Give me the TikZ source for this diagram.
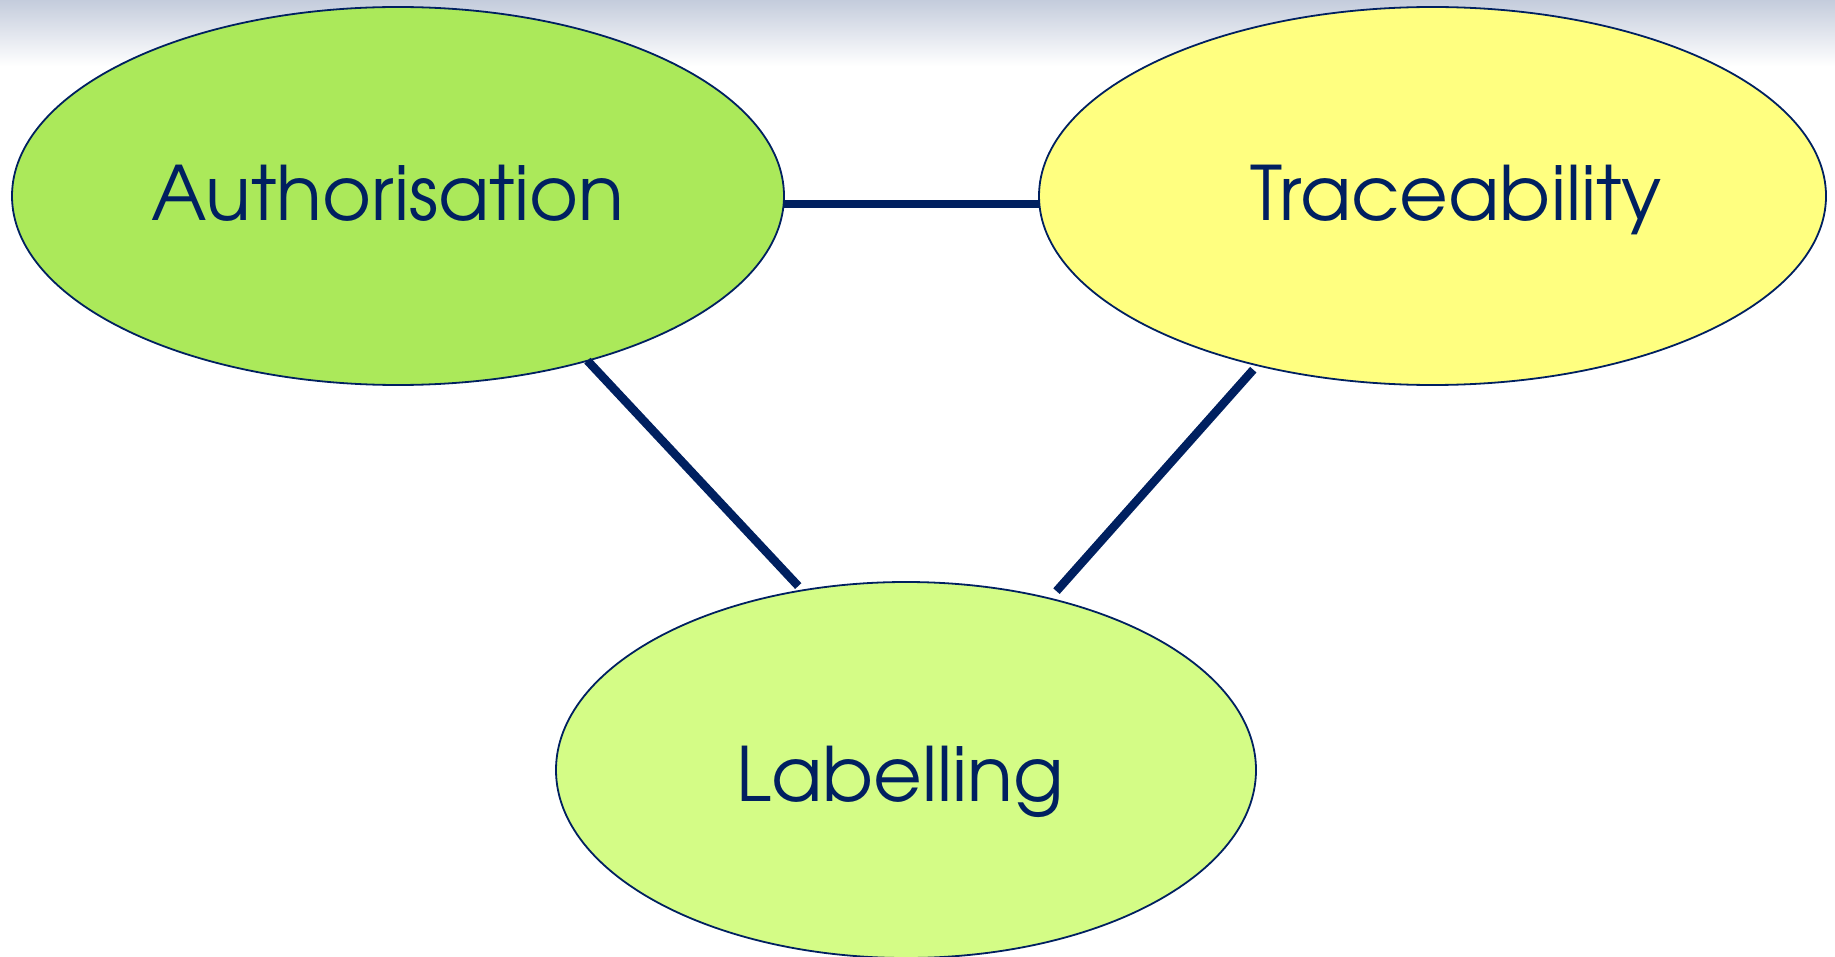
\documentclass[tikz,border=0pt]{standalone}
\usepackage{fontspec}
\setmainfont{TeX Gyre Adventor}
\usetikzlibrary{shapes.geometric}
\definecolor{navy}{RGB}{0,32,96}
\definecolor{authfill}{RGB}{171,233,90}
\definecolor{tracefill}{RGB}{255,255,128}
\definecolor{labfill}{RGB}{212,252,134}
\definecolor{topshade}{RGB}{196,204,220}
\begin{document}
\begin{tikzpicture}[x=1pt,y=-1pt,
  blob/.style={ellipse, draw=navy, line width=1.8pt, inner sep=0pt, outer sep=0pt},
  word/.style={anchor=base, text=navy, inner sep=0pt, font=\fontsize{75}{82}\selectfont},
  link/.style={draw=navy, line width=8.5pt, line cap=butt}]
\useasboundingbox (0,0) rectangle (1835,957);
\shade[top color=topshade, bottom color=white] (0,0) rectangle (1835,66);
\node[blob, fill=authfill, minimum width=772pt, minimum height=378pt] (auth) at (398,196) {};
\node[blob, fill=tracefill, minimum width=787pt, minimum height=378pt] (trace) at (1432.5,196) {};
\node[blob, fill=labfill, minimum width=700pt, minimum height=376pt] (lab) at (906,770) {};
\node[word] (tauth) at (388,221) {Authorisation};
\node[word] (ttrace) at (1456,221) {Traceability};
\node[word] (tlab) at (900,801) {Labelling};
\coordinate (hstart) at ([yshift=-8pt]auth.east);
\draw[link] (hstart) -- (hstart -| trace.west);
\draw[link, shorten >=6pt] (auth.-41.4) -- (lab.120.7);
\draw[link, shorten <=6pt, shorten >=10pt] (trace.-136) -- (lab.50.6);
\end{tikzpicture}
\end{document}
